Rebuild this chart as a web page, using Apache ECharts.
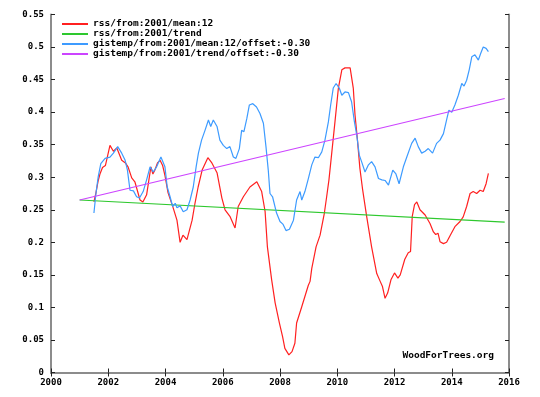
<!DOCTYPE html>
<html>
<head>
<meta charset="utf-8">
<script src="https://cdn.jsdelivr.net/npm/echarts@6/dist/echarts.min.js"></script>
<style>
    html, body { margin: 0; padding: 0; background: #fff; }
    #chart { width: 540px; height: 397px; }
</style>
</head>
<body>
<div id="chart"></div>
<script>
// Подписи серий
const seriesNames = [
    'rss/from:2001/mean:12',
    'rss/from:2001/trend',
    'gistemp/from:2001/mean:12/offset:-0.30',
    'gistemp/from:2001/trend/offset:-0.30'
];

// Шкалы
const yearTicks = [2000, 2002, 2004, 2006, 2008, 2010, 2012, 2014, 2016];
const valueTicks = [0, 0.05, 0.1, 0.15, 0.2, 0.25, 0.3, 0.35, 0.4, 0.45, 0.5, 0.55];

// RSS, скользящее среднее 12 мес. [год, значение]
const rssMean = [
    [2001.50, 0.262], [2001.57, 0.276], [2001.65, 0.295], [2001.71, 0.305], [2001.80, 0.315],
    [2001.90, 0.318], [2002.06, 0.349], [2002.18, 0.340], [2002.30, 0.345], [2002.47, 0.326],
    [2002.60, 0.322], [2002.69, 0.316], [2002.82, 0.299], [2002.93, 0.293], [2003.11, 0.265],
    [2003.21, 0.262], [2003.34, 0.273], [2003.49, 0.316], [2003.56, 0.305], [2003.63, 0.311],
    [2003.72, 0.322], [2003.81, 0.326], [2003.90, 0.318], [2003.98, 0.303], [2004.09, 0.276],
    [2004.26, 0.254], [2004.40, 0.234], [2004.51, 0.200], [2004.61, 0.211], [2004.75, 0.204],
    [2004.93, 0.234], [2005.03, 0.260], [2005.14, 0.285], [2005.28, 0.311], [2005.48, 0.330],
    [2005.62, 0.322], [2005.80, 0.307], [2005.97, 0.268], [2006.08, 0.250], [2006.25, 0.240],
    [2006.43, 0.222], [2006.54, 0.255], [2006.72, 0.270], [2006.95, 0.285], [2007.19, 0.293],
    [2007.36, 0.278], [2007.48, 0.247], [2007.56, 0.193], [2007.71, 0.142], [2007.83, 0.107],
    [2007.98, 0.076], [2008.09, 0.055], [2008.17, 0.037], [2008.31, 0.027], [2008.42, 0.032],
    [2008.52, 0.045], [2008.58, 0.076], [2008.76, 0.101], [2008.99, 0.134], [2009.05, 0.140],
    [2009.11, 0.160], [2009.26, 0.193], [2009.40, 0.211], [2009.55, 0.245], [2009.63, 0.270],
    [2009.71, 0.296], [2009.80, 0.334], [2009.92, 0.385], [2010.04, 0.437], [2010.16, 0.465],
    [2010.27, 0.468], [2010.45, 0.468], [2010.50, 0.465], [2010.56, 0.437], [2010.62, 0.396],
    [2010.70, 0.360], [2010.79, 0.314], [2010.88, 0.283], [2011.03, 0.239], [2011.20, 0.193],
    [2011.38, 0.152], [2011.50, 0.140], [2011.58, 0.132], [2011.67, 0.114], [2011.76, 0.122],
    [2011.88, 0.143], [2012.00, 0.153], [2012.12, 0.145], [2012.20, 0.150], [2012.36, 0.174],
    [2012.48, 0.184], [2012.56, 0.186], [2012.62, 0.240], [2012.70, 0.258], [2012.78, 0.262],
    [2012.89, 0.250], [2013.07, 0.242], [2013.24, 0.229], [2013.36, 0.216], [2013.44, 0.212],
    [2013.52, 0.214], [2013.59, 0.201], [2013.71, 0.198], [2013.82, 0.200], [2013.94, 0.210],
    [2014.11, 0.224], [2014.29, 0.232], [2014.40, 0.239], [2014.52, 0.255], [2014.64, 0.275],
    [2014.75, 0.278], [2014.87, 0.275], [2014.99, 0.280], [2015.10, 0.278], [2015.20, 0.290],
    [2015.28, 0.306]
];

// RSS, линейный тренд
const rssTrend = [[2001.0, 0.265], [2015.85, 0.231]];

// GISTEMP со смещением -0.30, скользящее среднее 12 мес.
const gistempMean = [
    [2001.50, 0.245], [2001.57, 0.275], [2001.65, 0.301], [2001.74, 0.321], [2001.89, 0.329],
    [2002.06, 0.331], [2002.18, 0.337], [2002.33, 0.347], [2002.47, 0.337], [2002.59, 0.326],
    [2002.67, 0.311], [2002.76, 0.280], [2002.88, 0.279], [2002.99, 0.270], [2003.09, 0.268],
    [2003.22, 0.278], [2003.34, 0.296], [2003.46, 0.316], [2003.57, 0.308], [2003.69, 0.316],
    [2003.84, 0.331], [2003.98, 0.316], [2004.06, 0.285], [2004.16, 0.270], [2004.25, 0.255],
    [2004.34, 0.260], [2004.40, 0.253], [2004.51, 0.256], [2004.62, 0.247], [2004.75, 0.250],
    [2004.86, 0.265], [2004.97, 0.285], [2005.07, 0.316], [2005.15, 0.337], [2005.26, 0.357],
    [2005.38, 0.372], [2005.50, 0.388], [2005.58, 0.378], [2005.67, 0.388], [2005.80, 0.378],
    [2005.90, 0.357], [2006.02, 0.349], [2006.14, 0.344], [2006.25, 0.347], [2006.37, 0.331],
    [2006.46, 0.329], [2006.58, 0.344], [2006.66, 0.372], [2006.74, 0.370], [2006.84, 0.390],
    [2006.93, 0.411], [2007.05, 0.413], [2007.18, 0.408], [2007.30, 0.398], [2007.42, 0.383],
    [2007.51, 0.347], [2007.59, 0.311], [2007.65, 0.275], [2007.74, 0.270], [2007.88, 0.245],
    [2008.00, 0.232], [2008.10, 0.228], [2008.21, 0.218], [2008.33, 0.220], [2008.47, 0.234],
    [2008.58, 0.265], [2008.70, 0.278], [2008.76, 0.265], [2008.87, 0.278], [2008.99, 0.298],
    [2009.11, 0.319], [2009.22, 0.331], [2009.34, 0.330], [2009.46, 0.339], [2009.57, 0.357],
    [2009.69, 0.385], [2009.77, 0.411], [2009.86, 0.437], [2009.96, 0.444], [2010.07, 0.437],
    [2010.16, 0.426], [2010.27, 0.431], [2010.39, 0.430], [2010.50, 0.416], [2010.60, 0.385],
    [2010.68, 0.365], [2010.77, 0.334], [2010.85, 0.324], [2010.97, 0.308], [2011.09, 0.319],
    [2011.20, 0.324], [2011.32, 0.316], [2011.44, 0.298], [2011.56, 0.296], [2011.67, 0.295],
    [2011.79, 0.288], [2011.94, 0.311], [2012.05, 0.305], [2012.16, 0.290], [2012.31, 0.316],
    [2012.43, 0.331], [2012.60, 0.352], [2012.72, 0.360], [2012.83, 0.347], [2012.95, 0.337],
    [2013.07, 0.340], [2013.18, 0.344], [2013.33, 0.337], [2013.47, 0.352], [2013.59, 0.357],
    [2013.71, 0.367], [2013.82, 0.388], [2013.90, 0.403], [2014.00, 0.400], [2014.11, 0.411],
    [2014.23, 0.426], [2014.35, 0.444], [2014.43, 0.440], [2014.52, 0.449], [2014.61, 0.465],
    [2014.70, 0.485], [2014.81, 0.488], [2014.93, 0.480], [2015.01, 0.490], [2015.10, 0.500],
    [2015.20, 0.498], [2015.28, 0.493]
];

// GISTEMP, линейный тренд
const gistempTrend = [[2001.0, 0.265], [2015.85, 0.421]];

const colors = ['#ff2020', '#2ec82e', '#3d9bff', '#cc44ff'];
const monoFont = '"DejaVu Sans Mono", monospace';

const chart = echarts.init(document.getElementById('chart'));

const frameLine = { show: true, lineStyle: { color: '#8c8c8c', width: 2 } };
const innerTick = { show: true, inside: true, length: 4, lineStyle: { color: '#222', width: 1 } };
const tickLabel = { color: '#000', fontFamily: monoFont, fontWeight: 'bold', fontSize: 9 };

const makeLine = (name, data, color) => ({
    name,
    type: 'line',
    data,
    showSymbol: false,
    symbol: 'none',
    lineStyle: { color, width: 1.2 },
    itemStyle: { color },
    animation: false
});

const option = {
    backgroundColor: '#fff',
    animation: false,
    grid: { left: 51, right: 31, top: 14.5, bottom: 24.5 },
    legend: {
        orient: 'vertical',
        left: 62,
        top: 19,
        padding: 0,
        itemGap: 0,
        itemWidth: 26,
        itemHeight: 2,
        icon: 'rect',
        data: seriesNames,
        textStyle: {
            color: '#000',
            fontFamily: monoFont,
            fontWeight: 'bold',
            fontSize: 9.5,
            lineHeight: 10,
            padding: [0, 0, 0, 0]
        }
    },
    xAxis: [
        {
            type: 'value',
            min: yearTicks[0],
            max: yearTicks[yearTicks.length - 1],
            interval: 2,
            position: 'bottom',
            axisLine: frameLine,
            axisTick: innerTick,
            splitLine: { show: false },
            axisLabel: { ...tickLabel, margin: 6, formatter: v => String(v) }
        },
        {
            type: 'value',
            min: yearTicks[0],
            max: yearTicks[yearTicks.length - 1],
            interval: 2,
            position: 'top',
            axisLine: frameLine,
            axisTick: innerTick,
            splitLine: { show: false },
            axisLabel: { show: false }
        }
    ],
    yAxis: [
        {
            type: 'value',
            min: valueTicks[0],
            max: valueTicks[valueTicks.length - 1],
            interval: 0.05,
            position: 'left',
            axisLine: frameLine,
            axisTick: innerTick,
            splitLine: { show: false },
            axisLabel: { ...tickLabel, margin: 7, formatter: v => String(parseFloat(v.toFixed(2))) }
        },
        {
            type: 'value',
            min: valueTicks[0],
            max: valueTicks[valueTicks.length - 1],
            interval: 0.05,
            position: 'right',
            axisLine: frameLine,
            axisTick: innerTick,
            splitLine: { show: false },
            axisLabel: { show: false }
        }
    ],
    graphic: [{
        type: 'text',
        right: 46,
        top: 351,
        style: {
            text: 'WoodForTrees.org',
            fill: '#000',
            font: 'bold 9.5px ' + monoFont
        }
    }],
    series: [
        makeLine(seriesNames[0], rssMean, colors[0]),
        makeLine(seriesNames[1], rssTrend, colors[1]),
        makeLine(seriesNames[2], gistempMean, colors[2]),
        makeLine(seriesNames[3], gistempTrend, colors[3])
    ]
};

chart.setOption(option);
</script>
</body>
</html>
